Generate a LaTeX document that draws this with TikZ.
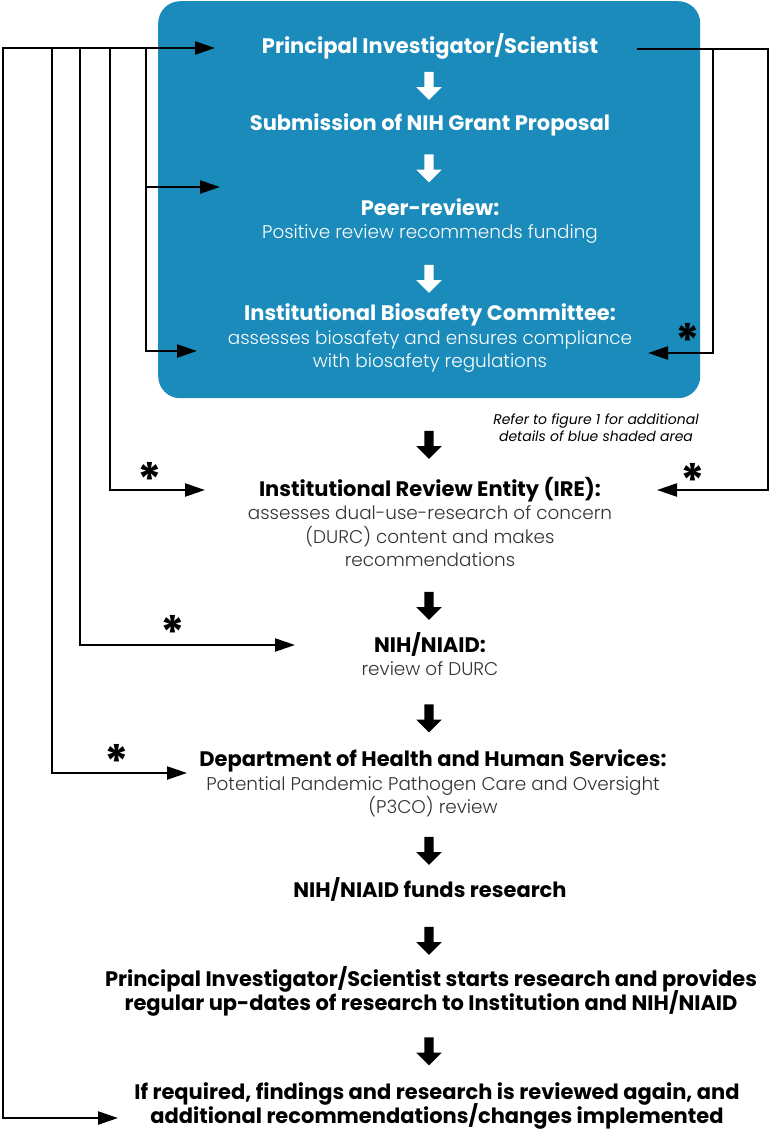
\documentclass[tikz,border=0pt]{standalone}
\usepackage{fontspec}
\setmainfont{Poppins}
\newfontfamily\litefamily{Poppins Light}
\usepackage{xcolor}
\usetikzlibrary{arrows.meta,shapes.arrows}

\definecolor{boxblue}{HTML}{1A8BBA}
\definecolor{bodygrey}{HTML}{333333}

\newcommand{\lite}{\litefamily\fontsize{18.4}{23}\selectfont}
\setlength{\lineskiplimit}{-50pt}

\begin{document}
\begin{tikzpicture}[x=1pt, y=-1pt,
    step text/.style={anchor=base, align=center, inner sep=0pt,
      font=\fontsize{21}{23.5}\selectfont},
    fb/.style={line width=2.3pt, -{Triangle[length=20pt,width=13pt]}},
    blockarrow/.style={single arrow, rotate=-90, inner sep=4.5pt,
      minimum height=28pt, single arrow head extend=8pt, draw=none},
    astx/.style={font=\fontsize{46}{46}\selectfont\bfseries, inner sep=0pt}
  ]
  \useasboundingbox (0,0) rectangle (771,1130);

  % blue shaded area
  \node[fill=boxblue, rounded corners=22pt, minimum width=542pt,
    minimum height=397pt, anchor=north west, inner sep=0pt] (blue) at (158,1) {};

  % steps inside the blue area
  \begin{scope}[every node/.append style={text=white}]
    \node[step text] (pi) at (430,53) {\textbf{Principal Investigator/Scientist}};
    \node[step text] (grant) at (430,130) {\textbf{Submission of NIH Grant Proposal}};
    \node[step text] (peer) at (430,238.5) {\textbf{Peer-review:}\\
      {\lite Positive review recommends funding}};
    \node[step text] (ibc) at (430,367.5) {\textbf{Institutional Biosafety Committee:}\\
      {\lite assesses biosafety and ensures compliance}\\
      {\lite with biosafety regulations}};
  \end{scope}

  % note below the blue area
  \node[step text, font=\fontsize{14}{17}\selectfont\itshape] (note) at (596,441)
    {Refer to figure 1 for additional\\details of blue shaded area};

  % steps below the blue area
  \node[step text] (ire) at (430,566.5) {\textbf{Institutional Review Entity (IRE):}\\
    {\color{bodygrey}\lite assesses dual-use-research of concern}\\
    {\color{bodygrey}\lite (DURC) content and makes}\\
    {\color{bodygrey}\lite recommendations}};
  \node[step text] (niaid) at (430,675.5) {\textbf{NIH/NIAID:}\\
    {\color{bodygrey}\lite review of DURC}};
  \node[step text] (hhs) at (433,813.5) {\textbf{Department of Health and Human Services:}\\
    {\color{bodygrey}\lite Potential Pandemic Pathogen Care and Oversight}\\
    {\color{bodygrey}\lite (P3CO) review}};
  \node[step text] (funds) at (430,897) {\textbf{NIH/NIAID funds research}};
  \node[step text] (start) at (431,1010)
    {\textbf{Principal Investigator/Scientist starts research and provides}\\
     \textbf{regular up-dates of research to Institution and NIH/NIAID}};
  \node[step text] (again) at (437,1123)
    {\textbf{If required, findings and research is reviewed again, and}\\
     \textbf{additional recommendations/changes implemented}};

  % block arrows between the steps
  \foreach \y/\c [count=\i] in {83.5/white, 166/white, 276.5/white, 442.5/black,
      603.5/black, 716/black, 848.5/black, 938.5/black, 1049/black} {
    \node[blockarrow, fill=\c] (arr-\i) at (429,\y) {};
  }

  % arrow tips of the feedback lines
  \coordinate (pi-l) at (215,48);
  \coordinate (peer-l) at (220,187);
  \coordinate (ibc-l) at (197,351);
  \coordinate (ire-l) at (205,490);
  \coordinate (niaid-l) at (295,645);
  \coordinate (hhs-l) at (187,773);
  \coordinate (again-l) at (118,1118);
  \coordinate (pi-r) at (637,49);
  \coordinate (ibc-r) at (648,353);
  \coordinate (ire-r) at (657,490);

  % feedback lines on the left
  \draw[fb, {Triangle[length=20pt,width=13pt]}-{Triangle[length=20pt,width=13pt]}]
    (again-l) -| (3,48) -- (pi-l);
  \draw[fb] (146,48) |- (ibc-l);
  \draw[fb] (146,187) -- (peer-l);
  \foreach \x/\n in {110/ire, 80/niaid, 52/hhs} {
    \draw[fb] (\x,48) |- (\n-l);
  }

  % feedback lines on the right
  \draw[fb] (pi-r) -- (768,49) |- (ire-r);
  \draw[fb] (713,49) |- (ibc-r);

  % asterisks
  \foreach \x/\y in {688/340, 693/480, 150/479, 173/632, 117/761} {
    \node[astx] at (\x,\y) {*};
  }
\end{tikzpicture}
\end{document}
